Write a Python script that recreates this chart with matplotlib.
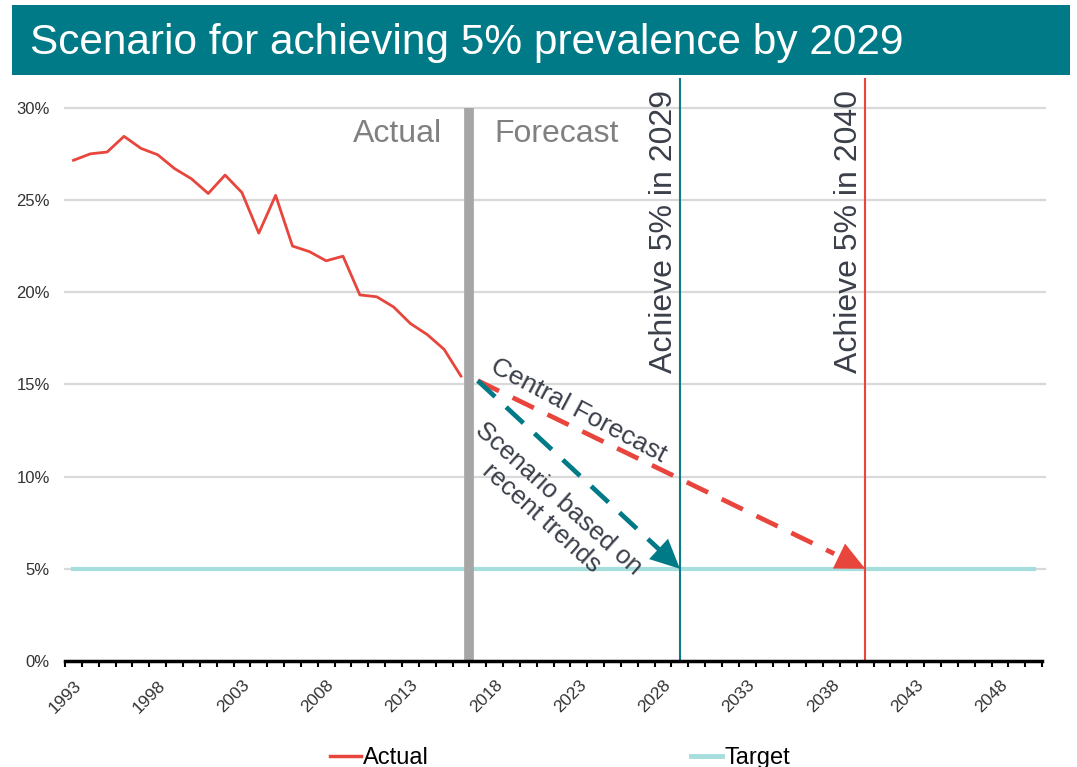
import matplotlib.pyplot as plt
from matplotlib.lines import Line2D
from matplotlib.patches import Rectangle
import numpy as np

plt.rcParams['font.family'] = ['Liberation Sans', 'DejaVu Sans']

# actual prevalence (%) by year
actual_years = list(range(1993, 2017))
actual_vals = [27.15, 27.5, 27.6, 28.45, 27.8, 27.45, 26.7, 26.15, 25.35, 26.35,
               25.4, 23.2, 25.25, 22.5, 22.2, 21.7, 21.95, 19.85, 19.75, 19.2,
               18.3, 17.7, 16.9, 15.45]

# target line
target_years = [1993, 2050]
target_vals = [5.0, 5.0]

# forecasts
central_years = [2017, 2040]
central_vals = [15.2, 5.0]
scenario_years = [2017, 2029]
scenario_vals = [15.2, 5.0]

split_year = 2016.5
achieve_years = [2029, 2040]
tick_years = list(range(1993, 2051, 5))

RED = '#E8453C'
TEAL = '#007A87'
TEAL_LINE = '#0F7889'
TARGET = '#A6DEDE'
TXT = '#3A3F4A'

fig = plt.figure(figsize=(10.77, 7.67), dpi=100)
ax = fig.add_axes([0.0604, 0.1382, 0.9072, 0.7598])

# title band
fig.patches.append(Rectangle((0.011, 0.902), 0.9825, 0.0915, transform=fig.transFigure,
                             facecolor=TEAL, edgecolor='none', zorder=0))
fig.text(0.028, 0.929, 'Scenario for achieving 5% prevalence by 2029', color='white',
         fontsize=30.5, va='baseline', ha='left')

ax.set_xlim(1992.5, 2050.5)
ax.set_ylim(0, 31.6)

for y in [5, 10, 15, 20, 25, 30]:
    ax.plot([1992.5, 2050.7], [y, y], color='#D9D9D9', lw=1.6, zorder=0, clip_on=False)

ax.plot(target_years, target_vals, color=TARGET, lw=3, zorder=2)
ax.plot(actual_years, actual_vals, color=RED, lw=2, zorder=3)

# actual / forecast divider
ax.plot([split_year, split_year], [0, 30], color='#A6A6A6', lw=7, solid_capstyle='butt', zorder=2)
ax.text(split_year - 1.6, 28.6, 'Actual', color='#808080', fontsize=23, ha='right', va='center')
ax.text(split_year + 1.5, 28.6, 'Forecast', color='#808080', fontsize=23, ha='left', va='center')

# achieve lines
ax.axvline(achieve_years[0], color=TEAL_LINE, lw=1.5, zorder=2)
ax.axvline(achieve_years[1], color=RED, lw=1.5, zorder=2)
for yr in achieve_years:
    ax.text(yr - 0.95, 23.3, f'Achieve 5% in {yr}', rotation=90, color=TXT,
            fontsize=23, ha='center', va='center')


def dashed_arrow(xs, ys, color):
    x0, x1 = xs
    y0, y1 = ys
    f = 0.92
    bx, by = x0 + f * (x1 - x0), y0 + f * (y1 - y0)
    ax.plot([x0, bx], [y0, by], color=color, lw=3.4, dashes=(5, 3.2), zorder=4)
    ax.annotate('', xy=(x1, y1), xytext=(bx - 0.01 * (x1 - x0), by - 0.01 * (y1 - y0)),
                arrowprops=dict(arrowstyle='-|>,head_length=2.1,head_width=1.0',
                                color=color, lw=0, shrinkA=0, shrinkB=0), zorder=5)


dashed_arrow(central_years, central_vals, RED)
dashed_arrow(scenario_years, scenario_vals, TEAL)

ax.text(2023.0, 13.6, 'Central Forecast', rotation=-28, color=TXT, fontsize=19,
        ha='center', va='center', rotation_mode='anchor')
ax.text(2021.3, 8.3, 'Scenario based on\nrecent trends', rotation=-42, color=TXT,
        fontsize=18.5, ha='center', va='center', multialignment='center',
        rotation_mode='anchor', linespacing=1.1)

# axes styling
for s in ['top', 'right', 'left']:
    ax.spines[s].set_visible(False)
ax.spines['bottom'].set_linewidth(2.5)
ax.spines['bottom'].set_color('black')

ax.set_yticks([0, 5, 10, 15, 20, 25, 30])
ax.set_yticklabels([f'{v}%' for v in [0, 5, 10, 15, 20, 25, 30]], fontsize=12, color='#333333')
ax.tick_params(axis='y', length=0, pad=11)

ax.set_xticks(tick_years)
ax.set_xticklabels([str(y) for y in tick_years], rotation=45, ha='right',
                   rotation_mode='anchor', fontsize=12.5, color='#333333')
ax.set_xticks(np.arange(1992.5, 2051, 1.0), minor=True)
ax.tick_params(axis='x', which='major', length=0, pad=12)
ax.tick_params(axis='x', which='minor', length=4, width=1.5, direction='out', color='black')

handles = [Line2D([], [], color=RED, lw=2.5), Line2D([], [], color=TARGET, lw=3.5)]
fig.legend(handles, ['Actual', 'Target'], loc='center', bbox_to_anchor=(0.52, 0.012),
           ncol=2, frameon=False, fontsize=17, handlelength=1.3, handletextpad=0.1,
           columnspacing=11.1)

fig.savefig('out.png', dpi=100)
